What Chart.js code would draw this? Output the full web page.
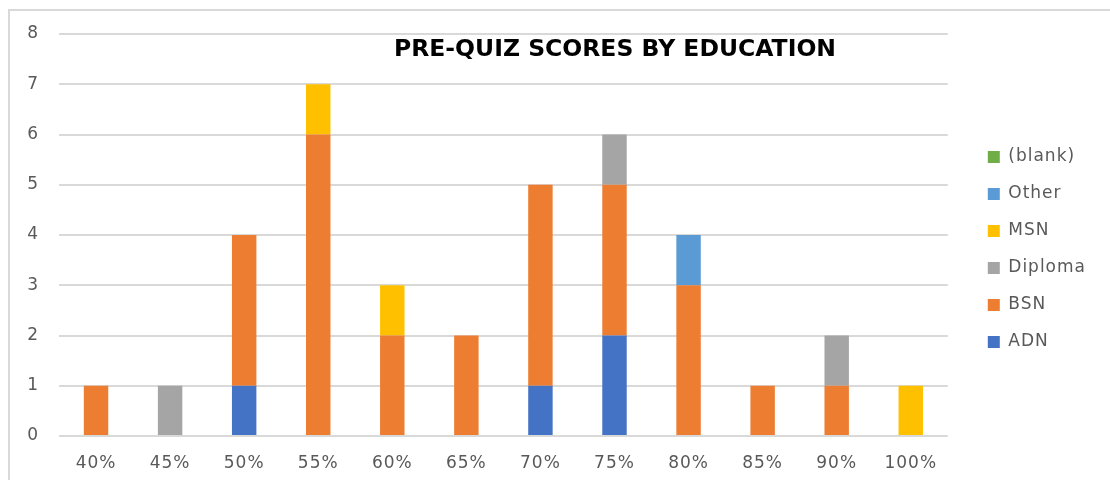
<!DOCTYPE html>
<html>
<head>
<meta charset="utf-8">
<script src="https://cdn.jsdelivr.net/npm/chart.js@4"></script>
<style>
    body { margin: 0; background: #fff; }
    #wrap {
        position: absolute; left: 8px; top: 9px; width: 1102px; height: 471px;
        border-top: 2px solid #d9d9d9; border-left: 2px solid #d9d9d9;
        box-sizing: border-box;
    }
</style>
</head>
<body>
<div id="wrap"><canvas id="eduChart"></canvas></div>

<script>
    // Puntajes (categorías del eje X)
    const scores = ['40%', '45%', '50%', '55%', '60%', '65%', '70%', '75%', '80%', '85%', '90%', '100%'];

    // Cantidad de personas por nivel de educación
    const adn     = [0, 0, 1, 0, 0, 0, 1, 2, 0, 0, 0, 0];
    const bsn     = [1, 0, 3, 6, 2, 2, 4, 3, 3, 1, 1, 0];
    const diploma = [0, 1, 0, 0, 0, 0, 0, 1, 0, 0, 1, 0];
    const msn     = [0, 0, 0, 1, 1, 0, 0, 0, 0, 0, 0, 1];
    const other   = [0, 0, 0, 0, 0, 0, 0, 0, 1, 0, 0, 0];
    const blank   = [0, 0, 0, 0, 0, 0, 0, 0, 0, 0, 0, 0];

    const yTicks = [0, 1, 2, 3, 4, 5, 6, 7, 8];
    const chartTitle = 'PRE-QUIZ SCORES BY EDUCATION';

    const FONT = 'DejaVu Sans';

    // Espaciado entre letras como en el original
    const spacing = {
        id: 'spacing',
        beforeLayout(chart) { chart.ctx.letterSpacing = '1px'; },
        beforeDraw(chart) {
            chart.ctx.letterSpacing = '1px';
            // que las etiquetas del eje X no se recorten
            chart.scales.x.bottom = chart.height;
        }
    };

    // Título dibujado dentro del área del gráfico
    const innerTitle = {
        id: 'innerTitle',
        afterDraw(chart) {
            const c = chart.ctx;
            c.save();
            c.letterSpacing = '0px';
            c.font = 'bold 23.5px "' + FONT + '"';
            c.fillStyle = '#000';
            c.textAlign = 'center';
            c.textBaseline = 'middle';
            c.fillText(chartTitle, 605, 39);
            c.restore();
        }
    };

    const ds = (label, data, color) => ({
        label: label,
        data: data,
        backgroundColor: color,
        borderWidth: 0,
        categoryPercentage: 1,
        barPercentage: 0.33
    });

    new Chart(document.getElementById('eduChart'), {
        type: 'bar',
        data: {
            labels: scores,
            datasets: [
                ds('ADN', adn, '#4472C4'),
                ds('BSN', bsn, '#ED7D31'),
                ds('Diploma', diploma, '#A5A5A5'),
                ds('MSN', msn, '#FFC000'),
                ds('Other', other, '#5B9BD5'),
                ds('(blank)', blank, '#70AD47')
            ]
        },
        options: {
            responsive: true,
            maintainAspectRatio: false,
            animation: false,
            layout: { padding: { left: 17, top: 23, right: 14, bottom: 15 } },
            plugins: {
                tooltip: { enabled: false },
                legend: {
                    position: 'right',
                    reverse: true,
                    labels: {
                        boxWidth: 12,
                        boxHeight: 12,
                        padding: 20,
                        color: '#595959',
                        font: { family: FONT, size: 17 }
                    }
                }
            },
            scales: {
                x: {
                    stacked: true,
                    grid: { display: false, drawTicks: false },
                    border: { display: false },
                    afterFit: axis => { axis.height = 29; },
                    ticks: {
                        color: '#595959',
                        padding: 17,
                        font: { family: FONT, size: 17 }
                    }
                },
                y: {
                    stacked: true,
                    min: 0,
                    max: 8,
                    afterBuildTicks: axis => { axis.ticks = yTicks.map(v => ({ value: v })); },
                    afterFit: axis => { axis.width = 32; axis.paddingTop = 0; axis.paddingBottom = 0; },
                    grid: { color: '#d9d9d9', lineWidth: 2, drawTicks: false },
                    border: { display: false },
                    ticks: {
                        color: '#595959',
                        padding: 20,
                        font: { family: FONT, size: 17 }
                    }
                },
                // eje vacío a la derecha para separar la leyenda del gráfico
                gap: {
                    position: 'right',
                    display: true,
                    grid: { display: false },
                    border: { display: false },
                    ticks: { display: false },
                    afterFit: axis => { axis.width = 20; axis.paddingTop = 0; axis.paddingBottom = 0; }
                }
            }
        },
        plugins: [spacing, innerTitle]
    });
</script>
</body>
</html>
